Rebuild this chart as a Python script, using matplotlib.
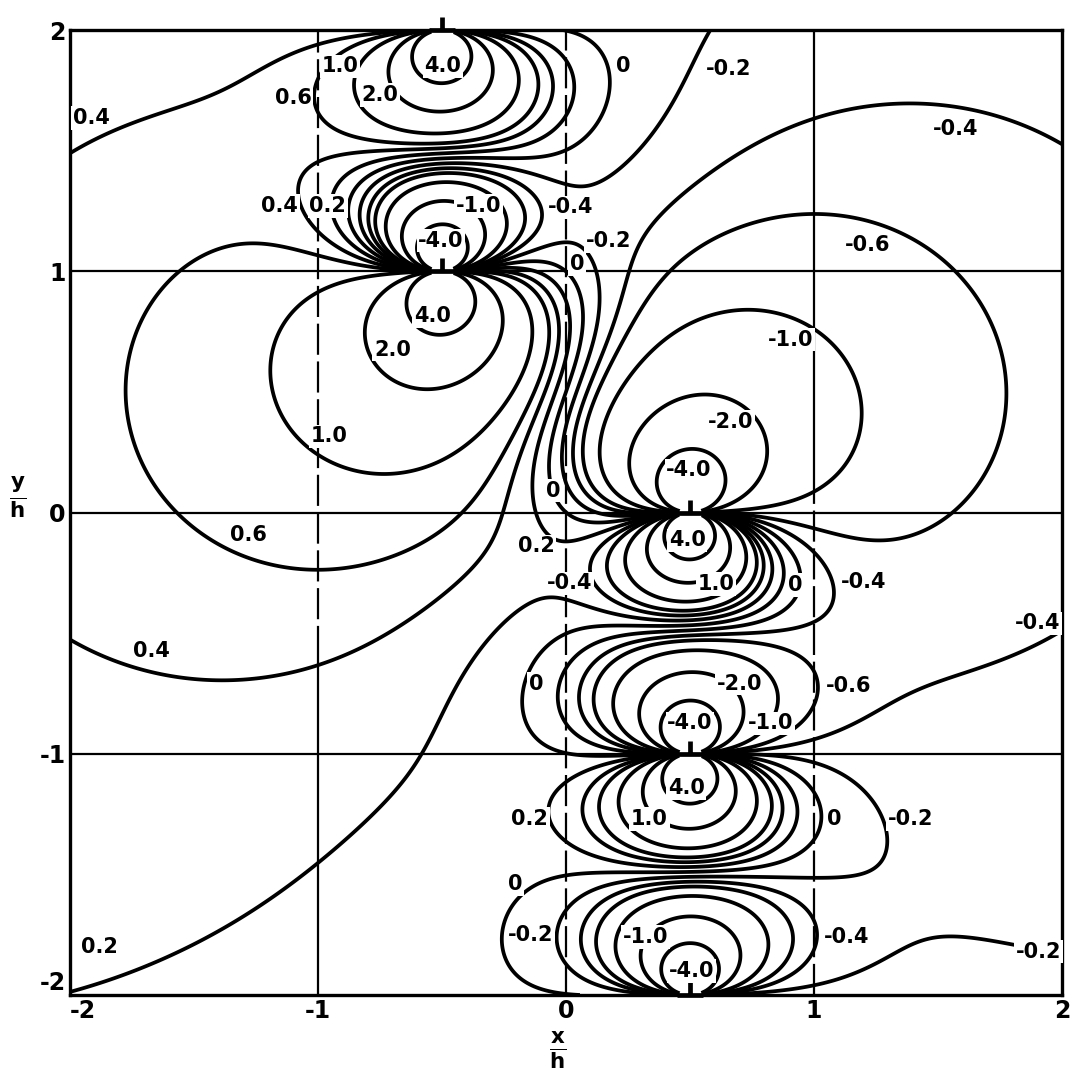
import numpy as np
import matplotlib
matplotlib.use("Agg")
import matplotlib.pyplot as plt
from matplotlib.path import Path

# Stepped tilt wall of edge dislocations (lengths in units of the spacing h):
# upper branch at x = -0.5 for y = 1, 2, 3, ... ; lower branch at x = +0.5 for y = 0, -1, -2, ...
upper_wall_x = -0.5
upper_wall_first_y = 1.0
lower_wall_x = 0.5
lower_wall_first_y = 0.0
dislocations_per_branch = 600

# dislocations that fall inside the plotted window
disl_x = [-0.5, -0.5, 0.5, 0.5, 0.5]
disl_y = [2.0, 1.0, 0.0, -1.0, -2.0]

# contour levels of the mean stress
levels = [-4.0, -2.0, -1.0, -0.6, -0.4, -0.2, 0.0, 0.2, 0.4, 0.6, 1.0, 2.0, 4.0]

# contour annotations: level and position
label_levels = [0.4, 0.6, 1.0, 4.0, 2.0, 0.0, -0.2, -0.4,
                0.4, 0.2, -1.0, -0.4, -4.0, -0.2, 0.0, -0.6,
                4.0, 2.0, -1.0, 1.0, -2.0, 0.6, 0.0, -4.0,
                4.0, 0.2, -0.4, 1.0, 0.0, -0.4, -0.4, 0.4,
                0.0, -2.0, -0.6, -4.0, -1.0, 4.0, 1.0, 0.2,
                0.0, -0.2, 0.0, -0.2, -1.0, -0.4, -4.0, -0.2, 0.2]
label_x = [-1.915, -1.10, -0.91, -0.496, -0.75, 0.232, 0.657, 1.57,
           -1.155, -0.96, -0.353, 0.02, -0.504, 0.172, 0.044, 1.216,
           -0.54, -0.70, 0.907, -0.956, 0.663, -1.28, -0.05, 0.496,
           0.489, -0.12, 0.015, 0.604, 0.924, 1.20, 1.90, -1.67,
           -0.12, 0.70, 1.14, 0.50, 0.825, 0.485, 0.337, -0.147,
           1.08, 1.39, -0.204, -0.143, 0.32, 1.13, 0.505, 1.905, -1.88]
label_y = [1.635, 1.72, 1.85, 1.85, 1.73, 1.85, 1.84, 1.59,
           1.27, 1.27, 1.27, 1.265, 1.127, 1.124, 1.03, 1.11,
           0.815, 0.675, 0.716, 0.316, 0.377, -0.095, 0.09, 0.175,
           -0.116, -0.14, -0.294, -0.296, -0.30, -0.29, -0.46, -0.575,
           -0.71, -0.71, -0.72, -0.874, -0.874, -1.144, -1.27, -1.27,
           -1.27, -1.27, -1.54, -1.75, -1.76, -1.76, -1.90, -1.82, -1.80]

tick_values = [-2, -1, 0, 1, 2]
tick_labels = ["-2", "-1", "0", "1", "2"]


def mean_stress(X, Y, x0, y0):
    """Mean normal stress of one edge dislocation (b along x), in units of mu*b/(2*pi*(1-nu)*h)."""
    dx = X - x0
    dy = Y - y0
    return -dy / (dx * dx + dy * dy)


xs = np.linspace(-2.0, 2.0, 801)
ys = np.linspace(-2.0, 2.0, 801)
X, Y = np.meshgrid(xs, ys)
S = np.zeros_like(X)
for k in range(dislocations_per_branch):
    S += mean_stress(X, Y, upper_wall_x, upper_wall_first_y + k)
    S += mean_stress(X, Y, lower_wall_x, lower_wall_first_y - k)

fig = plt.figure(figsize=(10.72, 10.76), dpi=100)
ax = fig.add_axes([70 / 1072, 1 - 995 / 1076, 992 / 1072, 965 / 1076])
ax.set_xlim(-2, 2)
ax.set_ylim(-2, 2)

# reference grid: solid horizontals, partly dashed verticals
grid_kw = dict(color="black", lw=1.6, zorder=1)
for gy in [-1, 0, 1]:
    ax.axhline(gy, **grid_kw)
ax.vlines(-1, -0.6, 2, linestyles=(0, (14, 3)), **grid_kw)
ax.vlines(-1, -2, -0.6, **grid_kw)
ax.vlines(0, -2, 2, linestyles=(0, (14, 3)), **grid_kw)
ax.vlines(1, 0.05, 2, **grid_kw)
ax.vlines(1, -2, 0.05, linestyles=(0, (14, 3)), **grid_kw)

ax.contour(X, Y, S, levels=levels, colors="black", linewidths=2.7,
           linestyles="solid", zorder=2)

# dislocation symbols
perp = Path([(-1.0, 0.0), (1.0, 0.0), (0.0, 0.0), (0.0, 1.0)],
            [Path.MOVETO, Path.LINETO, Path.MOVETO, Path.LINETO])
ax.plot(disl_x, disl_y, ls="none", marker="o", ms=16, mfc="white",
        mec="none", zorder=3, clip_on=False)
ax.plot(disl_x, disl_y, ls="none", marker=perp, ms=19, mec="black",
        mew=3.4, zorder=4, clip_on=False)


def fmt(v):
    return "0" if v == 0 else f"{v:.1f}"


for v, lx, ly in zip(label_levels, label_x, label_y):
    ax.text(lx, ly, fmt(v), ha="center", va="center", fontsize=15,
            fontweight="bold", zorder=5,
            bbox=dict(boxstyle="square,pad=0.08", fc="white", ec="none"))

ax.set_xticks(tick_values)
ax.set_xticklabels(tick_labels)
ax.set_yticks(tick_values)
ax.set_yticklabels(tick_labels)
ax.tick_params(length=0, labelsize=17, pad=3)
for t in ax.get_xticklabels() + ax.get_yticklabels():
    t.set_fontweight("bold")
ax.get_xticklabels()[0].set_ha("left")
ax.get_yticklabels()[0].set_va("bottom")
for sp in ax.spines.values():
    sp.set_linewidth(2.4)

fig.text(18 / 1072, 1 - 497 / 1076, r"$\frac{\mathbf{y}}{\mathbf{h}}$",
         fontsize=22, ha="center", va="center")
fig.text(558 / 1072, 1 - 1050 / 1076, r"$\frac{\mathbf{x}}{\mathbf{h}}$",
         fontsize=22, ha="center", va="center")

fig.savefig("out.png", dpi=100, facecolor="white")
